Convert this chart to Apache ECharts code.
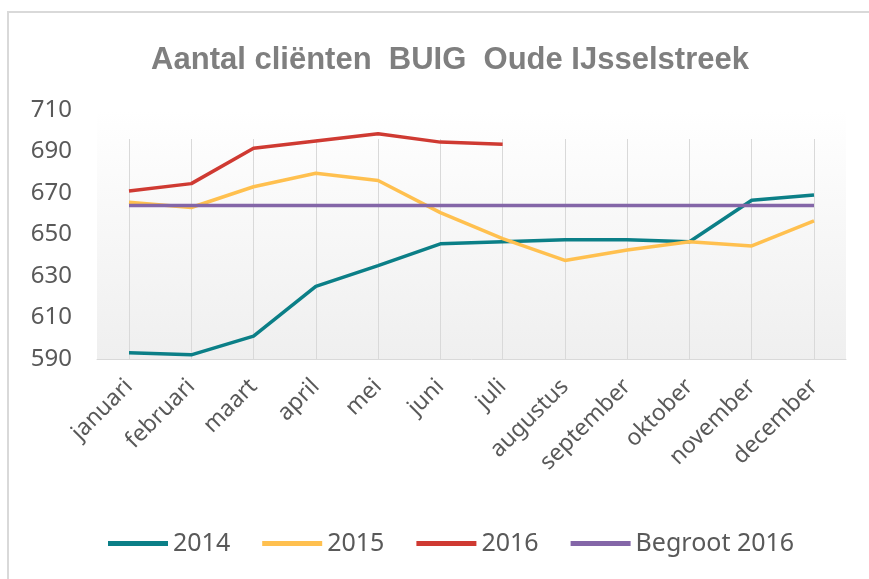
<!DOCTYPE html>
<html>
<head>
<meta charset="utf-8">
<title>Aantal cliënten BUIG</title>
<script src="https://cdn.jsdelivr.net/npm/echarts@6/dist/echarts.min.js"></script>
<style>
	html, body { margin: 0; padding: 0; background: #fff; }
	#chart { width: 869px; height: 579px; position: relative; }
	#frame { position: absolute; left: 7px; top: 11px; width: 870px; height: 580px;
		border-left: 2px solid #d9d9d9; border-top: 2px solid #d9d9d9; pointer-events: none; }
</style>
</head>
<body>
<div id="chart"></div>
<div id="frame"></div>
<script>
// maanden
var maanden = ['januari', 'februari', 'maart', 'april', 'mei', 'juni', 'juli',
	'augustus', 'september', 'oktober', 'november', 'december'];

var data2014 = [593, 592, 601, 625, 635, 645.5, 646.5, 647.5, 647.5, 646.5, 666.5, 669];
var data2015 = [665.5, 663, 673, 679.5, 676, 660.5, 648, 637.5, 642.5, 646.5, 644.5, 656.5];
var data2016 = [671, 674.5, 691.5, 695, 698.5, 694.5, 693.5];
var begroot2016 = [664, 664, 664, 664, 664, 664, 664, 664, 664, 664, 664, 664];

// y-as
var yMin = 590;
var yMax = 710;
var yStap = 20;

var kleuren = ['#0B7F87', '#FFC04F', '#CF3A32', '#8466A8'];
var tekstKleur = '#595959';
var lijnDikte = 3.5;

var chart = echarts.init(document.getElementById('chart'));

function lijn(naam, data) {
	return {
		name: naam,
		type: 'line',
		xAxisIndex: 0,
		yAxisIndex: 0,
		data: data,
		symbol: 'none',
		clip: false,
		lineStyle: { width: lijnDikte }
	};
}

var option = {
	color: kleuren,
	animation: false,
	title: {
		text: 'Aantal cliënten  BUIG  Oude IJsselstreek',
		left: 445,
		textAlign: 'center',
		top: 40,
		textStyle: {
			fontFamily: 'Liberation Sans',
			fontWeight: 'bold',
			fontSize: 31,
			color: '#7f7f7f'
		}
	},
	legend: {
		top: 526,
		left: 103,
		icon: 'rect',
		itemWidth: 60,
		itemHeight: 5,
		itemGap: 32,
		itemStyle: { borderWidth: 0 },
		textStyle: { fontFamily: 'Noto Sans', fontSize: 25, color: tekstKleur },
		data: ['2014', '2015', '2016', 'Begroot 2016']
	},
	grid: [
		// lijnen + verticale hulplijnen
		{ left: 129, right: 55, top: 139, bottom: 220 },
		// achtergrond, y-labels en x-aslijn
		{ left: 97, right: 23, top: 110, bottom: 220, show: true, z: -1, borderWidth: 0,
			backgroundColor: new echarts.graphic.LinearGradient(0, 0, 0, 1, [
				{ offset: 0, color: '#ffffff' },
				{ offset: 1, color: '#efefef' }
			]) }
	],
	xAxis: [
		{
			type: 'category',
			gridIndex: 0,
			data: maanden,
			boundaryGap: false,
			axisLine: { show: false },
			axisTick: { show: false },
			splitLine: { show: true, lineStyle: { color: '#d9d9d9', width: 1 } },
			axisLabel: {
				rotate: 45,
				margin: 24,
				interval: 0,
				fontFamily: 'Noto Sans',
				fontSize: 23,
				color: tekstKleur
			}
		},
		{
			type: 'category',
			gridIndex: 1,
			data: maanden,
			boundaryGap: true,
			axisLine: { show: true, lineStyle: { color: '#d9d9d9', width: 1 } },
			axisTick: { show: false },
			axisLabel: { show: false },
			splitLine: { show: false }
		}
	],
	yAxis: [
		{
			type: 'value',
			gridIndex: 0,
			min: yMin,
			max: 696,
			show: false,
			splitLine: { show: false }
		},
		{
			type: 'value',
			gridIndex: 1,
			min: yMin,
			max: yMax,
			interval: yStap,
			axisLine: { show: false },
			axisTick: { show: false },
			splitLine: { show: false },
			axisLabel: {
				margin: 25,
				fontFamily: 'Noto Sans',
				fontSize: 24,
				color: tekstKleur
			}
		}
	],
	series: [
		lijn('2014', data2014),
		lijn('2015', data2015),
		lijn('2016', data2016),
		lijn('Begroot 2016', begroot2016)
	]
};

chart.setOption(option);
</script>
</body>
</html>
